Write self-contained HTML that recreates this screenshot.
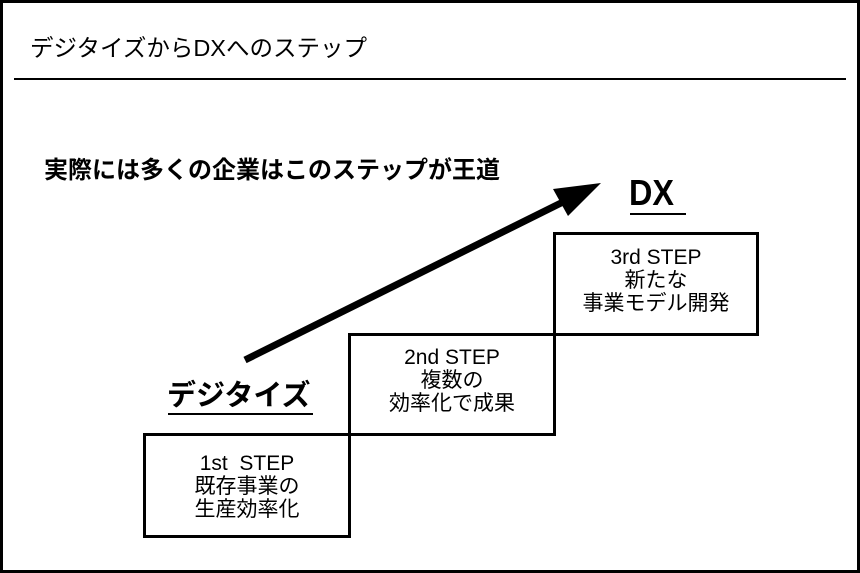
<!DOCTYPE html>
<html><head><meta charset="utf-8"><style>
html,body{margin:0;padding:0;background:#fff}
body{width:860px;height:573px;position:relative;overflow:hidden;font-family:"Liberation Sans","Noto Sans CJK JP",sans-serif;color:#000}
.frame{position:absolute;left:0;top:0;width:854px;height:567px;border:3px solid #000}
.t{position:absolute;white-space:nowrap}
.box{position:absolute;border:3px solid #000;box-sizing:border-box;text-align:center;font-size:21px;line-height:23px}
</style></head><body>
<div class="frame"></div>
<div class="t" style="left:30px;top:29px;font-size:23.5px">デジタイズからDXへのステップ</div>
<div style="position:absolute;left:14px;top:78px;width:832px;height:2px;background:#000"></div>
<div class="t" style="left:44px;top:150px;font-size:24px;font-weight:bold">実際には多くの企業はこのステップが王道</div>
<div class="box" style="left:143px;top:433px;width:208px;height:105px;padding-top:16px">1st&nbsp; STEP<br>既存事業の<br>生産効率化</div>
<div class="box" style="left:348px;top:333px;width:208px;height:103px;padding-top:10px">2nd STEP<br>複数の<br>効率化で成果</div>
<div class="box" style="left:553px;top:232px;width:206px;height:104px;padding-top:11px">3rd STEP<br>新たな<br>事業モデル開発</div>
<div class="t" style="left:167px;top:372px;font-size:29px;font-weight:bold">デジタイズ</div>
<div style="position:absolute;left:168px;top:413px;width:145px;height:2px;background:#000"></div>
<div class="t" style="left:629px;top:172px;font-size:36px;font-weight:bold;transform:scaleX(0.9);transform-origin:left">DX</div>
<div style="position:absolute;left:630px;top:213px;width:56px;height:2px;background:#000"></div>
<svg width="860" height="573" style="position:absolute;left:0;top:0">
<line x1="245" y1="360" x2="565" y2="201" stroke="#000" stroke-width="7"/>
<polygon points="601,183 553,189 568,216" fill="#000"/>
</svg>
</body></html>
